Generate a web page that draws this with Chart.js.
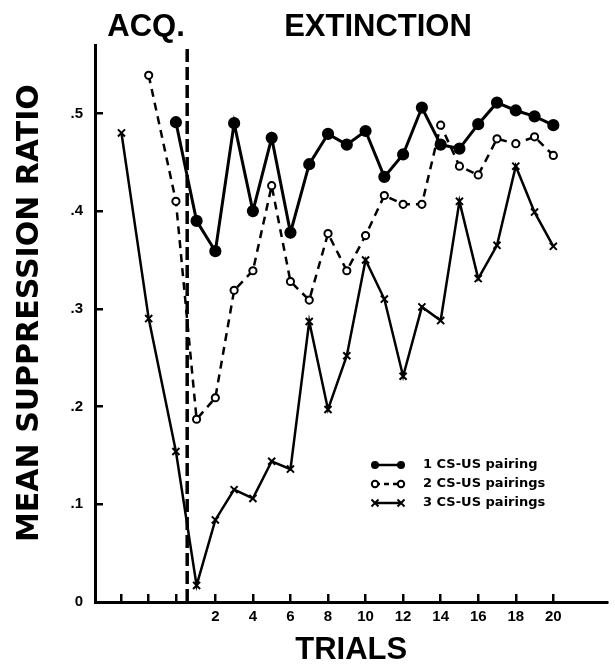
<!DOCTYPE html>
<html>
<head>
<meta charset="utf-8">
<script src="https://cdn.jsdelivr.net/npm/chart.js@4.4.0/dist/chart.umd.min.js"></script>
<style>
  html, body { margin: 0; padding: 0; background: #fff; }
  #wrap { width: 615px; height: 665px; }
</style>
</head>
<body>
<div id="wrap"><canvas id="supChart" width="615" height="665"></canvas></div>
<script>
// acquisition trials sit left of the dashed line, extinction trials 1..20 to the right
const acqX = [-3, -1.55, -0.1];
const extTrials = [1, 2, 3, 4, 5, 6, 7, 8, 9, 10, 11, 12, 13, 14, 15, 16, 17, 18, 19, 20];
const xTickValues = [-3, -1.55, -0.1, 2, 4, 6, 8, 10, 12, 14, 16, 18, 20];
const yTickValues = [0, 0.1, 0.2, 0.3, 0.4, 0.5];
const dividerX = 0.5;

// mean suppression ratio per group (acquisition part, then extinction)
const oneAcq = [0.491];
const oneExt = [0.390, 0.359, 0.490, 0.400, 0.475, 0.378, 0.448, 0.479, 0.468, 0.482,
                0.435, 0.458, 0.506, 0.468, 0.464, 0.489, 0.511, 0.503, 0.497, 0.488];
const twoAcq = [0.539, 0.410];
const twoExt = [0.187, 0.209, 0.319, 0.339, 0.426, 0.328, 0.309, 0.377, 0.339, 0.375,
                0.416, 0.407, 0.407, 0.488, 0.446, 0.437, 0.474, 0.469, 0.476, 0.457];
const threeAcq = [0.480, 0.290, 0.154];
const threeExt = [0.017, 0.084, 0.115, 0.106, 0.144, 0.136, 0.287, 0.197, 0.252, 0.350,
                  0.310, 0.231, 0.302, 0.288, 0.410, 0.331, 0.365, 0.446, 0.399, 0.364];

const seriesNames = ['1 CS-US pairing', '2 CS-US pairings', '3 CS-US pairings'];

function toPoints(acq, ext) {
    const pts = [];
    const xs = acqX.slice(acqX.length - acq.length);
    acq.forEach((v, i) => pts.push({ x: xs[i], y: v }));
    ext.forEach((v, i) => pts.push({ x: extTrials[i], y: v }));
    return pts;
}

// header labels and the small legend box
const extras = {
    id: 'extras',
    afterDraw(chart) {
        const c = chart.ctx;
        c.save();
        c.fillStyle = '#000';
        c.font = 'bold 31px "Liberation Sans"';
        c.textAlign = 'center';
        c.textBaseline = 'alphabetic';
        c.fillText('ACQ.', 146, 36);
        c.fillText('EXTINCTION', 378, 36);

        const rows = [465, 484, 503];
        c.lineWidth = 2.5;
        c.strokeStyle = '#000';
        rows.forEach((y, i) => {
            c.setLineDash(i === 1 ? [5, 4] : []);
            c.beginPath();
            c.moveTo(375, y);
            c.lineTo(401, y);
            c.stroke();
            c.setLineDash([]);
            [375, 401].forEach(x => {
                c.beginPath();
                if (i === 0) {
                    c.arc(x, y, 4, 0, Math.PI * 2);
                    c.fillStyle = '#000';
                    c.fill();
                } else if (i === 1) {
                    c.arc(x, y, 3.2, 0, Math.PI * 2);
                    c.fillStyle = '#fff';
                    c.fill();
                    c.lineWidth = 2;
                    c.stroke();
                } else {
                    c.moveTo(x - 3.5, y - 3.5); c.lineTo(x + 3.5, y + 3.5);
                    c.moveTo(x + 3.5, y - 3.5); c.lineTo(x - 3.5, y + 3.5);
                    c.lineWidth = 2;
                    c.stroke();
                }
                c.lineWidth = 2.5;
            });
            c.fillStyle = '#000';
            c.font = 'bold 13px "DejaVu Sans"';
            c.textAlign = 'left';
            c.textBaseline = 'middle';
            c.fillText(seriesNames[i], 423, y);
        });
        c.restore();
    }
};

const ctx = document.getElementById('supChart').getContext('2d');
const supChart = new Chart(ctx, {
    type: 'scatter',
    data: {
        datasets: [
            {
                label: 'divider',
                data: [{ x: dividerX, y: 0 }, { x: dividerX, y: 0.57 }],
                showLine: true,
                borderColor: '#000',
                borderWidth: 3.5,
                borderDash: [13, 5],
                pointRadius: 0
            },
            {
                label: seriesNames[0],
                data: toPoints(oneAcq, oneExt),
                showLine: true,
                borderColor: '#000',
                borderWidth: 3,
                pointStyle: 'circle',
                pointRadius: 4.6,
                pointBackgroundColor: '#000',
                pointBorderColor: '#000'
            },
            {
                label: seriesNames[1],
                data: toPoints(twoAcq, twoExt),
                showLine: true,
                borderColor: '#000',
                borderWidth: 2.5,
                borderDash: [8, 6],
                pointStyle: 'circle',
                pointRadius: 3.6,
                pointBorderWidth: 2,
                pointBackgroundColor: '#fff',
                pointBorderColor: '#000'
            },
            {
                label: seriesNames[2],
                data: toPoints(threeAcq, threeExt),
                showLine: true,
                borderColor: '#000',
                borderWidth: 2.5,
                pointStyle: 'crossRot',
                pointRadius: 5,
                pointBorderWidth: 2,
                pointBorderColor: '#000'
            }
        ]
    },
    options: {
        responsive: false,
        devicePixelRatio: 1,
        animation: false,
        layout: { padding: { top: 45, right: 3, left: 0, bottom: 0 } },
        plugins: {
            legend: { display: false },
            tooltip: { enabled: false }
        },
        scales: {
            x: {
                type: 'linear',
                min: -4.41,
                max: 22.88,
                afterBuildTicks: s => { s.ticks = xTickValues.map(v => ({ value: v })); },
                afterFit: s => { s.height = 63; },
                border: { color: '#000', width: 3 },
                grid: { drawOnChartArea: false, drawTicks: true, tickLength: -8, color: '#000', lineWidth: 2.5 },
                ticks: {
                    autoSkip: false,
                    maxRotation: 0,
                    padding: 14,
                    color: '#000',
                    font: { family: '"Liberation Sans"', size: 15, weight: 'bold' },
                    callback: v => (v > 0 ? String(v) : '')
                },
                title: {
                    display: true,
                    text: 'TRIALS',
                    color: '#000',
                    padding: { top: 0, bottom: -4 },
                    font: { family: '"Liberation Sans"', size: 31, weight: 'bold' }
                }
            },
            y: {
                min: 0,
                max: 0.57,
                afterBuildTicks: s => { s.ticks = yTickValues.map(v => ({ value: v })); },
                afterFit: s => { s.width = 95; },
                border: { color: '#000', width: 3 },
                grid: { drawOnChartArea: false, drawTicks: true, tickLength: -8, color: '#000', lineWidth: 2.5 },
                ticks: {
                    padding: 20,
                    color: '#000',
                    font: { family: '"Liberation Sans"', size: 15, weight: 'bold' },
                    callback: v => (v === 0 ? '0' : '.' + Math.round(v * 10))
                },
                title: {
                    display: true,
                    text: '  MEAN SUPPRESSION RATIO',
                    color: '#000',
                    padding: { top: 12, bottom: 0 },
                    font: { family: '"DejaVu Sans"', size: 30, weight: 'bold' }
                }
            }
        }
    },
    plugins: [extras]
});
</script>
</body>
</html>
